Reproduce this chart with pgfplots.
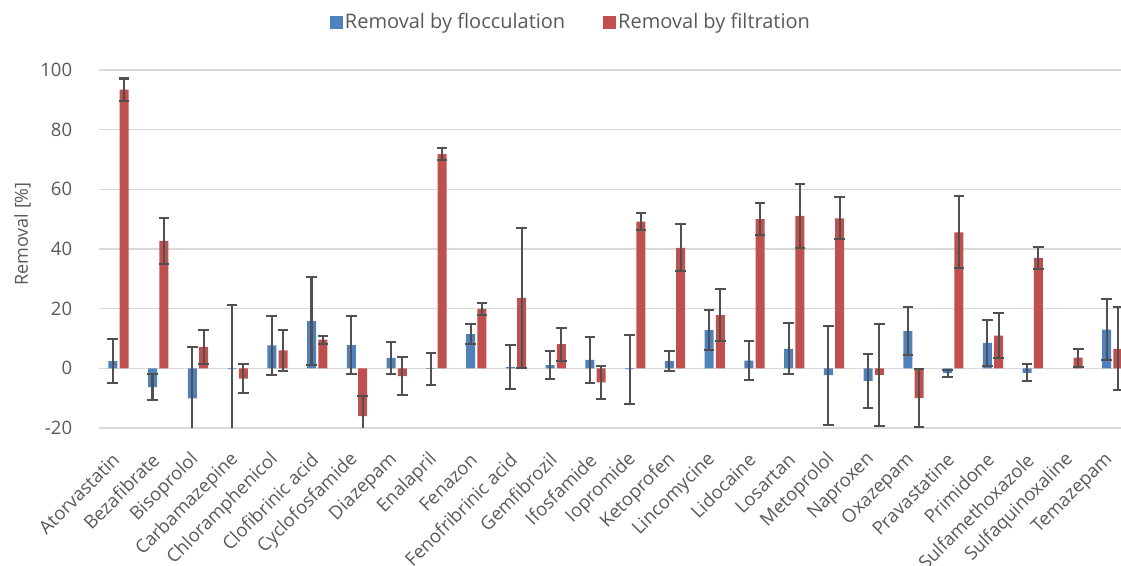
\documentclass[border=0pt]{standalone}
\usepackage{pgfplots}
\pgfplotsset{compat=1.18}
\usepackage{pgfplotstable}
\usepackage{fontspec}
\setmainfont{Open Sans}
\definecolor{barblue}{HTML}{4F81BD}
\definecolor{barred}{HTML}{C0504D}
\definecolor{txtgray}{HTML}{595959}
\definecolor{gridgray}{HTML}{D9D9D9}
\definecolor{errgray}{HTML}{505050}
\pgfplotstableread{
x b be r re
0 2.4 7.4 93.4 3.75
1 -6.3 4.3 42.7 7.6
2 -10.1 17.1 7.2 5.65
3 -0.3 21.6 -3.45 4.75
4 7.7 9.95 6.0 6.75
5 15.8 14.8 9.6 1.3
6 7.8 9.85 -16.0 6.7
7 3.5 5.35 -2.6 6.4
8 -0.2 5.25 71.8 1.9
9 11.5 3.3 19.9 2.0
10 0.4 7.4 23.6 23.5
11 1.1 4.8 8.1 5.5
12 2.8 7.7 -4.7 5.5
13 -0.3 11.5 49.2 2.85
14 2.4 3.4 40.4 7.9
15 12.8 6.65 17.8 8.65
16 2.6 6.65 50.0 5.45
17 6.5 8.55 51.1 10.7
18 -2.3 16.6 50.3 7.0
19 -4.2 9.05 -2.2 17.1
20 12.5 8.05 -10.0 9.8
21 -1.6 1.2 45.6 12.0
22 8.5 7.6 11.0 7.6
23 -1.5 2.85 37.0 3.7
24 nan nan 3.6 3.0
25 13.0 10.2 6.5 13.9
}\data
\begin{document}
\begin{tikzpicture}
\begin{axis}[
  at={(98.6bp,138bp)}, anchor=south west,
  scale only axis, width=1022.4bp, height=358bp,
  xmin=-0.5, xmax=25.22, ymin=-20, ymax=100,
  ytick={-20,0,20,40,60,80,100},
  xtick={0,...,25},
  xticklabels={Atorvastatin,Bezafibrate,Bisoprolol,Carbamazepine,Chloramphenicol,Clofibrinic acid,Cyclofosfamide,Diazepam,Enalapril,Fenazon,Fenofribrinic acid,Gemfibrozil,Ifosfamide,Iopromide,Ketoprofen,Lincomycine,Lidocaine,Losartan,Metoprolol,Naproxen,Oxazepam,Pravastatine,Primidone,Sulfamethoxazole,Sulfaquinoxaline,Temazepam},
  axis line style={draw=none},
  tick style={draw=none},
  ymajorgrids, grid style={draw=gridgray, line width=1.5bp},
  /pgf/number format/assume math mode=true,
  ticklabel style={font=\fontsize{18.5bp}{21bp}\selectfont, text=txtgray},
  yticklabel style={xshift=-23bp},
  xticklabel style={rotate=45, anchor=east},
  xticklabel shift=22bp,
  ybar, bar width=0.226,
  legend columns=2,
  legend style={at={(0.462,1.134)}, anchor=center, draw=none, fill=none,
    font=\fontsize{20bp}{23bp}\selectfont, text=txtgray,
    /tikz/every even column/.append style={column sep=36bp}},
  legend image code/.code={\fill[#1] (0bp,-6.5bp) rectangle (13bp,6.5bp);},
]
\addplot[fill=barblue, draw=none, bar shift=-0.143,
  error bars/.cd, y dir=both, y explicit,
  error bar style={draw=errgray, line width=2.1bp},
  error mark options={rotate=90, draw=errgray, line width=2bp, mark size=5.3bp}]
  table[x=x, y=b, y error=be] {\data};
\addlegendentry{Removal by flocculation}
\addplot[fill=barred, draw=none, bar shift=0.143,
  error bars/.cd, y dir=both, y explicit,
  error bar style={draw=errgray, line width=2.1bp},
  error mark options={rotate=90, draw=errgray, line width=2bp, mark size=5.3bp}]
  table[x=x, y=r, y error=re] {\data};
\addlegendentry{Removal by filtration}
\end{axis}
\node[rotate=90, text=txtgray, font=\fontsize{18bp}{21bp}\selectfont] at (22.5bp,332bp) {Removal [\%]};
\pgfresetboundingbox
\useasboundingbox (0,0) rectangle (1121bp,566bp);
\end{tikzpicture}
\end{document}
